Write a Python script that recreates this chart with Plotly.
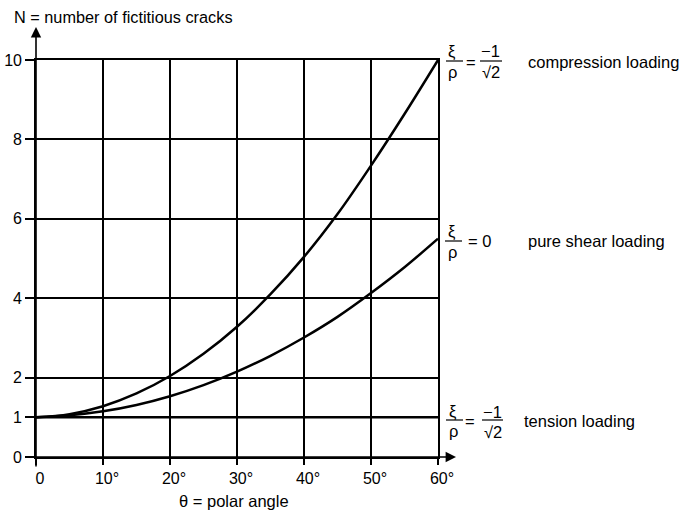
import plotly.graph_objects as go

# ---- data ----
theta = [0, 5, 10, 15, 20, 25, 30, 35, 40, 45, 50, 55, 60]
n_compression = [1.0, 1.08, 1.28, 1.6, 2.04, 2.6, 3.28, 4.1, 5.04, 6.12, 7.34, 8.64, 10.0]
n_shear = [1.0, 1.05, 1.15, 1.31, 1.53, 1.81, 2.15, 2.55, 3.01, 3.53, 4.13, 4.78, 5.5]
n_tension = [1.0] * len(theta)

x_tickvals = [0, 10, 20, 30, 40, 50, 60]
x_ticktext = ["0", "10°", "20°", "30°", "40°", "50°", "60°"]
y_tickvals = [0, 1, 2, 4, 6, 8, 10]
y_ticktext = ["0", "1", "2", "4", "6", "8", "10"]

series_names = ["compression loading", "pure shear loading", "tension loading"]

FONT = "Liberation Sans, Arial, sans-serif"
W, H = 683, 517
L, R, T, B = 36, 245, 60, 60

fig = go.Figure()
for name, ys in zip(series_names, [n_compression, n_shear, n_tension]):
    fig.add_trace(go.Scatter(
        x=theta, y=ys, mode="lines", name=name,
        line=dict(color="black", width=2.5, shape="spline", smoothing=1.0),
        showlegend=False, hoverinfo="x+y",
    ))

annotations = []
shapes = []

# axis arrows (extending beyond the plotting frame)
annotations.append(dict(x=0, y=1 + 33 / 397, xref="paper", yref="paper", text="",
                        showarrow=True, ax=0, ay=441, axref="pixel", ayref="pixel",
                        arrowhead=2, arrowsize=1.3, arrowwidth=1.6, arrowcolor="black"))
annotations.append(dict(x=1 + 18 / 402, y=0, xref="paper", yref="paper", text="",
                        showarrow=True, ax=-426, ay=0, axref="pixel", ayref="pixel",
                        arrowhead=2, arrowsize=1.3, arrowwidth=1.6, arrowcolor="black"))

# axis titles
annotations.append(dict(x=0, y=1, xref="paper", yref="paper", xanchor="left", yanchor="middle",
                        xshift=-24, yshift=43, text="N = number of fictitious cracks",
                        showarrow=False, font=dict(family=FONT, size=16.3, color="black")))
annotations.append(dict(x=0.5, y=0, xref="paper", yref="paper", xanchor="center", yanchor="middle",
                        xshift=-3, yshift=-44, text="θ = polar angle",
                        showarrow=False, font=dict(family=FONT, size=16.5, color="black")))


def px_of(v):
    return 457 - v * 39.7


def add_text(txt, v, dx, cy, anchor="center", size=16.5):
    annotations.append(dict(x=1, y=v, xref="paper", yref="y", xanchor=anchor, yanchor="middle",
                            xshift=dx, yshift=px_of(v) - cy, text=txt, showarrow=False,
                            font=dict(family=FONT, size=size, color="black")))


def add_bar(v, dx0, dx1, cy):
    off = px_of(v) - cy
    shapes.append(dict(type="line", xref="paper", yref="y", xsizemode="pixel", ysizemode="pixel",
                       xanchor=1, yanchor=v, x0=dx0, x1=dx1, y0=off, y1=off,
                       line=dict(color="black", width=1.2)))


# compression: xi/rho = -1/sqrt2
v, cy = n_compression[-1], 61
add_text("ξ", v, 14, cy - 10)
add_text("ρ", v, 14, cy + 11)
add_bar(v, 8, 25, cy)
add_text("=", v, 33, cy + 1)
add_text("−1", v, 52, cy - 10)
add_text("√2", v, 53, cy + 11)
add_bar(v, 42, 64, cy)
add_text(series_names[0], v, 88, cy + 1, anchor="left")

# shear: xi/rho = 0
v, cy = n_shear[-1], 241
add_text("ξ", v, 14, cy - 10)
add_text("ρ", v, 14, cy + 11)
add_bar(v, 7, 24, cy)
add_text("= 0", v, 28, cy, anchor="left")
add_text(series_names[1], v, 88, cy, anchor="left")

# tension: xi/rho = -1/sqrt2 (as printed)
v, cy = n_tension[-1], 420
add_text("ξ", v, 15, cy - 9)
add_text("ρ", v, 15, cy + 11)
add_bar(v, 8, 25, cy)
add_text("=", v, 32, cy + 1)
add_text("−1", v, 54, cy - 8)
add_text("√2", v, 55, cy + 12)
add_bar(v, 44, 65, cy)
add_text(series_names[2], v, 84, cy + 1, anchor="left")

fig.update_layout(
    width=W, height=H,
    margin=dict(l=L, r=R, t=T, b=B, pad=0),
    paper_bgcolor="white", plot_bgcolor="white",
    font=dict(family=FONT, size=16, color="black"),
    annotations=annotations, shapes=shapes,
    xaxis=dict(range=[0, 60], tickmode="array", tickvals=x_tickvals, ticktext=x_ticktext,
               automargin=False,
               showgrid=True, gridcolor="black", gridwidth=1.5, zeroline=False,
               showline=True, mirror=True, linecolor="black", linewidth=1.6,
               ticks="outside", ticklen=6, tickwidth=1.5, tickcolor="black",
               ticklabelshift=4, tickfont=dict(family=FONT, size=16, color="black")),
    yaxis=dict(range=[0, 10], tickmode="array", tickvals=y_tickvals, ticktext=y_ticktext,
               automargin=False,
               showgrid=True, gridcolor="black", gridwidth=1.5, zeroline=False,
               showline=True, mirror=True, linecolor="black", linewidth=1.6,
               ticks="outside", ticklen=9, tickwidth=1.5, tickcolor="black",
               tickfont=dict(family=FONT, size=16, color="black")),
)

fig.write_html("out.html", config={"displayModeBar": False},
               post_script="document.body.style.margin='0';")
